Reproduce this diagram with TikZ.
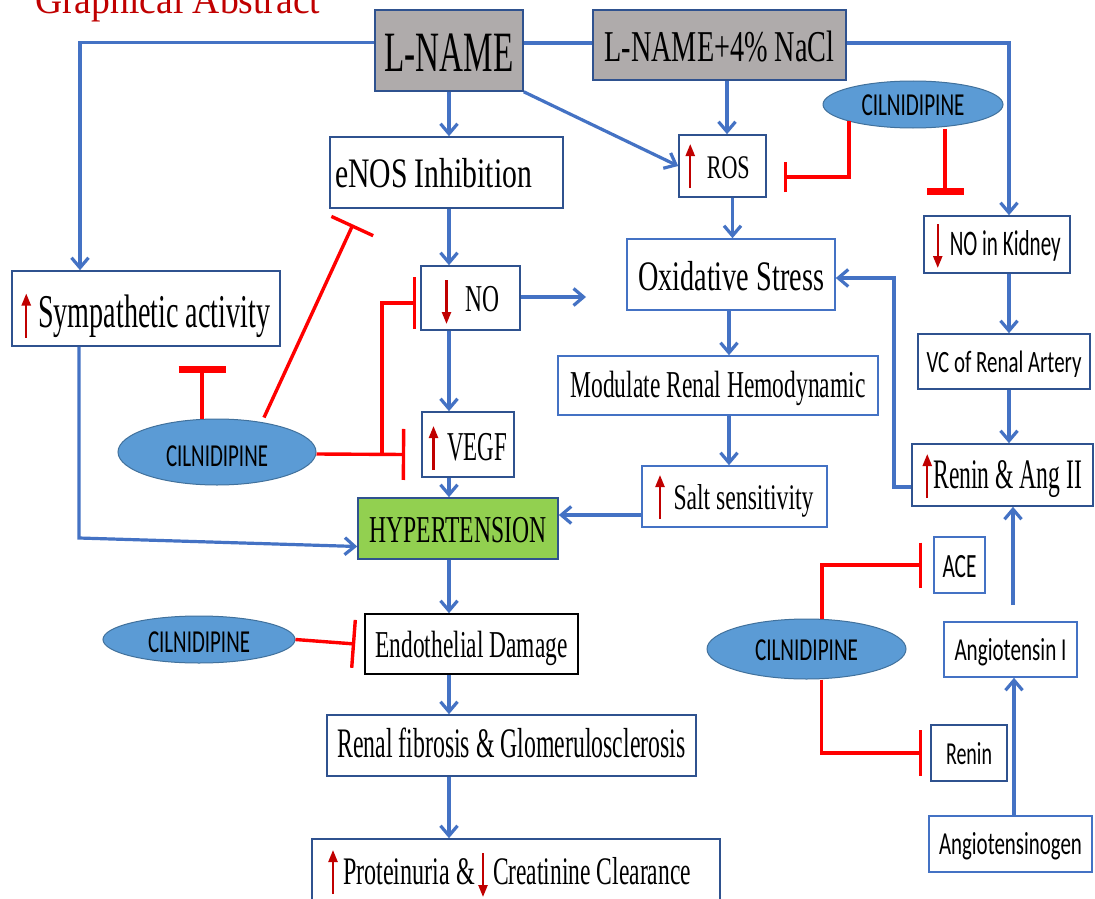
\documentclass[tikz,border=0pt]{standalone}
\usepackage{fontspec}
\setmainfont{Liberation Serif}
\newfontfamily\calib{Carlito}
\usepackage{graphicx}
\usetikzlibrary{arrows.meta,shapes.geometric}
\definecolor{cblue}{HTML}{4472C4}
\definecolor{dkb}{HTML}{2F528F}
\definecolor{redl}{HTML}{FF0000}
\definecolor{arr}{HTML}{C00000}
\definecolor{ellf}{HTML}{5B9BD5}
\definecolor{elld}{HTML}{41719C}
\definecolor{grn}{HTML}{92D050}
\definecolor{gry}{HTML}{AFABAB}
\newcommand\fw[3]{\resizebox{#1pt}{\height}{\fontsize{#2pt}{#2pt}\selectfont #3}}
\newcommand\fc[3]{\resizebox{#1pt}{\height}{\calib\fontsize{#2pt}{#2pt}\selectfont #3}}
\newcommand\upar[1]{\tikz[baseline=0pt]\draw[draw=arr, line width=2.3pt, -{Triangle[length=12pt,width=9pt]}] (0pt,-10pt) -- (0pt,34pt);\hspace{#1pt}}
\newcommand\dnar[1]{\tikz[baseline=0pt]\draw[draw=arr, line width=2.3pt, -{Triangle[length=12pt,width=9pt]}] (0pt,31pt) -- (0pt,-13pt);\hspace{#1pt}}
\tikzset{
  box/.style={draw=dkb, line width=1.6pt, fill=white, inner sep=0pt, text depth=0pt},
  lbox/.style={box, draw=cblue},
  ell/.style={ellipse, draw=elld, fill=ellf, line width=1pt, inner sep=0pt, text depth=0pt},
  conn/.style={draw=cblue, line width=3.2pt, -{Straight Barb[length=10pt,width=17pt]}},
  cline/.style={draw=cblue, line width=3.2pt},
  inh/.style={draw=redl, line width=3.4pt, -{Bar[width=#1]}},
  inhT/.style={draw=redl, line width=4.3pt, -{Bar[width=#1,line width=7pt]}}
}
\begin{document}
\begin{tikzpicture}[x=1pt,y=-1pt]
\useasboundingbox (0,0) rectangle (1095,899);
\clip (0,0) rectangle (1095,899);
\fill[white] (0,0) rectangle (1095,899);

\node[anchor=base west, inner sep=0pt, text=arr] (title) at (35,14) {\fw{285}{40}{Graphical Abstract}};

\node[box, fill=gry, minimum width=148pt, minimum height=81pt, text height=41pt] (lname) at (449,50.5) {\fw{129}{57}{L-NAME}};
\node[box, fill=gry, minimum width=253pt, minimum height=70pt, text height=34pt] (nacl) at (719.5,45) {\fw{230}{44}{L-NAME+4\% NaCl}};
\node[box, minimum width=233pt, minimum height=71pt, text height=29pt] (enos) at (446.5,172.5) {\hspace*{-26pt}\fw{197}{42}{eNOS Inhibition}};
\node[box, minimum width=87pt, minimum height=62pt, text height=24pt] (ros) at (722.5,166) {\hspace*{-9.5pt}\upar{12}\fw{43}{33}{ROS}};
\node[ell, minimum width=180pt, minimum height=47pt, text height=21pt] (cil1) at (913,104.5) {\fc{103}{32}{CILNIDIPINE}};
\node[box, minimum width=146pt, minimum height=57pt, text height=21pt] (kidney) at (997,244.5) {\dnar{7.5}\fc{111}{36}{NO in Kidney}};
\node[box, minimum width=172pt, minimum height=55pt, text height=21pt] (vc) at (1004,361.5) {\fc{155}{31}{VC of Renal Artery}};
\node[lbox, minimum width=208pt, minimum height=71pt, text height=31pt] (oxi) at (731,274.5) {\fw{186}{42}{Oxidative Stress}};
\node[box, minimum width=99pt, minimum height=64pt, text height=26pt] (no) at (470.5,298) {\dnar{14}\fw{34}{38}{NO}};
\node[box, minimum width=268pt, minimum height=75pt, text height=38pt] (symp) at (146,308.5) {\upar{7.5}\fw{232}{47}{Sympathetic activity}};
\node[box, minimum width=92pt, minimum height=65pt, text height=31pt] (vegf) at (468,444.5) {\upar{9}\fw{60}{41}{VEGF}};
\node[ell, minimum width=198pt, minimum height=66pt, text height=28pt] (cil2) at (217,452) {\fc{102}{32}{CILNIDIPINE}};
\node[lbox, minimum width=320pt, minimum height=59pt, text height=23pt] (modul) at (718,385.5) {\fw{295}{38}{Modulate Renal Hemodynamic}};
\node[box, minimum width=181pt, minimum height=62pt, text height=26pt] (reninang) at (1002.5,475) {\upar{1.5}\fw{149}{42}{Renin \& Ang II}};
\node[lbox, minimum width=185pt, minimum height=61pt, text height=25pt] (salt) at (734.5,496.5) {\upar{9}\fw{140}{36}{Salt sensitivity}};
\node[box, fill=grn, minimum width=200pt, minimum height=61pt, text height=27pt] (hyper) at (458,528.5) {\fw{177}{38}{HYPERTENSION}};
\node[lbox, minimum width=51pt, minimum height=56pt, text height=24pt] (ace) at (959.5,565) {\fc{34}{34}{ACE}};
\node[ell, minimum width=199pt, minimum height=60pt, text height=22pt] (cil4) at (806.5,649) {\fc{103}{32}{CILNIDIPINE}};
\node[lbox, minimum width=133pt, minimum height=55pt, text height=21pt] (angI) at (1010.5,649.5) {\fc{112}{32}{Angiotensin I}};
\node[box, draw=black, minimum width=213pt, minimum height=60pt, text height=26pt] (endo) at (471.5,644) {\fw{192}{38}{Endothelial Damage}};
\node[ell, minimum width=192pt, minimum height=47pt, text height=25pt] (cil3) at (199,639.5) {\fc{102}{32}{CILNIDIPINE}};
\node[box, minimum width=76pt, minimum height=56pt, text height=22pt] (renin) at (969,753) {\fc{46}{32}{Renin}};
\node[box, minimum width=369pt, minimum height=61pt, text height=24pt] (fibro) at (511.5,745.5) {\fw{348}{42}{Renal fibrosis \& Glomerulosclerosis}};
\node[lbox, minimum width=163pt, minimum height=56pt, text height=20pt] (angen) at (1010.5,844) {\fc{143}{32}{Angiotensinogen}};
\node[box, minimum width=408pt, minimum height=63pt, text height=27pt] (prot) at (516,870.5) {\hspace*{-12.5pt}\upar{5.5}\fw{132}{39}{Proteinuria \&}\hspace{3.5pt}\dnar{5.5}\fw{198}{39}{Creatinine Clearance}};

% helper coordinates
\coordinate (col) at (449,0);
\coordinate (c2) at (729,0);
\coordinate (c3) at (79,0);
\coordinate (c4) at (1009,0);
\coordinate (c5) at (1014,0);
\coordinate (c6) at (894,0);
\coordinate (h515) at (0,515);
\coordinate (noend) at (586,297);
\coordinate (ag) at (1013,605);
\coordinate (oxin) at ([yshift=-3.5pt]oxi.east);
\coordinate (rnw) at ([yshift=-12pt]reninang.west);
\coordinate (bend) at (79,538);

% blue connectors
\draw[cline] ([yshift=7.5pt]lname.east) -- ([yshift=2pt]nacl.west);
\draw[conn] ([yshift=8pt]lname.west) -| ([xshift=-66pt]symp.north);
\draw[conn] ([yshift=2pt]nacl.east) -| (c4 |- kidney.north);
\draw[conn] (col |- lname.south) -- (col |- enos.north);
\draw[conn] (lname.south east) -- (ros.west);
\draw[conn] ([xshift=4.5pt]ros.north |- nacl.south) -- ([xshift=4.5pt]ros.north);
\draw[conn] ([xshift=10pt]ros.south) -- ([xshift=10pt]ros.south |- oxi.north);
\draw[conn] (col |- enos.south) -- (col |- no.north);
\draw[conn] (col |- no.south) -- (col |- vegf.north);
\draw[conn] (col |- vegf.south) -- (col |- hyper.north);
\draw[conn] (col |- hyper.south) -- (col |- endo.north);
\draw[conn] (col |- endo.south) -- (col |- fibro.north);
\draw[conn] (col |- fibro.south) -- (col |- prot.north);
\draw[conn] (no.east |- noend) -- (noend);
\draw[conn] (c2 |- oxi.south) -- (c2 |- modul.north);
\draw[conn] (c2 |- modul.south) -- (c2 |- salt.north);
\draw[conn] (salt.west |- h515) -- (hyper.east |- h515);
\draw[conn] (c3 |- symp.south) -- (bend) -- ([yshift=-18pt]hyper.west);
\draw[conn] (c4 |- kidney.south) -- (c4 |- vc.north);
\draw[conn] (c4 |- vc.south) -- (c4 |- reninang.north);
\draw[conn] (rnw) -| (c6 |- oxin) -- (oxin);
\draw[conn] (ag) -- (ag |- reninang.south);
\draw[conn] (c5 |- angen.north) -- (c5 |- angI.south);

% red inhibitors
\coordinate (t1) at ([xshift=17pt,yshift=-11pt]ros.east);
\draw[inh=30pt] (cil1.south west) |- (t1);
\coordinate (t2) at (945,195);
\draw[inhT=37pt] (cil1.south -| t2) -- (t2);
\coordinate (t3) at (202,366);
\draw[inhT=47pt] (cil2.north -| t3) -- (t3);
\coordinate (t4) at (353,224.5);
\draw[inh=46pt] ([xshift=47pt,yshift=1pt]cil2.north) -- (t4);
\coordinate (t5) at ([xshift=-16pt,yshift=-10pt]vegf.west);
\draw[inh=51pt] ([yshift=-2pt]cil2.east) -- (t5);
\coordinate (br) at (382,454.5);
\coordinate (t6) at ([xshift=-4pt,yshift=-5pt]no.west);
\draw[inh=52pt] (br) |- (t6);
\coordinate (t7) at ([xshift=-9pt]endo.west);
\draw[inh=48pt] (cil3.east) -- (t7);
\coordinate (t8) at ([xshift=-11pt]ace.west);
\draw[inh=45pt] ([xshift=15.5pt]cil4.north) |- (t8);
\coordinate (t9) at ([xshift=-8pt]renin.west);
\draw[inh=46pt] ([xshift=15pt]cil4.south) |- (t9);
\end{tikzpicture}
\end{document}
